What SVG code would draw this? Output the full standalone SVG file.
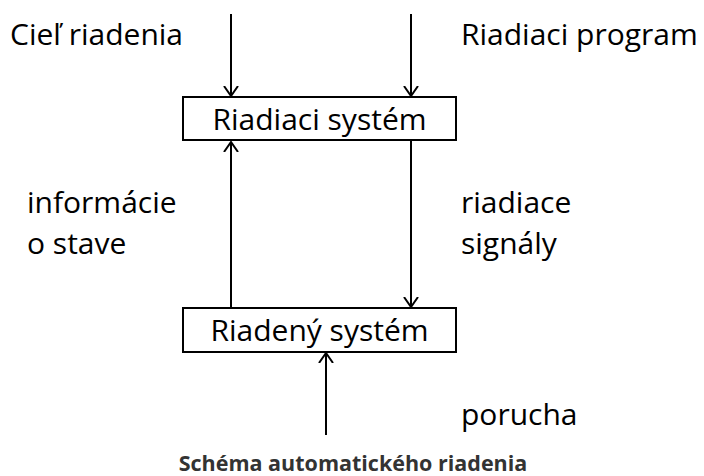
<svg xmlns="http://www.w3.org/2000/svg" width="704" height="476" viewBox="0 0 704 476">
<style>
.t{font-family:"Open Sans","Noto Sans",sans-serif;font-size:30px;fill:#000}
.b{fill:#fff;stroke:#000;stroke-width:2}
.c{stroke:#000;stroke-width:2;fill:none;marker-end:url(#a)}
.cap{font-family:"Open Sans","Noto Sans",sans-serif;font-size:21.5px;font-weight:bold;fill:#333}
</style>
<defs>
<marker id="a" markerUnits="userSpaceOnUse" markerWidth="20" markerHeight="20" refX="10" refY="10" orient="auto">
<polyline points="0,3 10,10 0,17" fill="none" stroke="#000" stroke-width="2"/>
</marker>
</defs>
<rect width="704" height="476" fill="#fff"/>
<g id="connectors">
<line class="c" x1="231" y1="14" x2="231" y2="96"/>
<line class="c" x1="411" y1="14" x2="411" y2="96"/>
<line class="c" x1="231" y1="308" x2="231" y2="142"/>
<line class="c" x1="411" y1="141" x2="411" y2="307"/>
<line class="c" x1="326" y1="435" x2="326" y2="353"/>
</g>
<g id="riadiaci">
<rect class="b" x="183" y="97" width="273" height="43"/>
<text class="t" x="319.5" y="130" text-anchor="middle">Riadiaci systém</text>
</g>
<g id="riadeny">
<rect class="b" x="183" y="308" width="273" height="44"/>
<text class="t" x="319.5" y="341" text-anchor="middle">Riadený systém</text>
</g>
<g id="labels">
<text class="t" x="10" y="45">Cieľ riadenia</text>
<text class="t" x="461" y="45">Riadiaci program</text>
<text class="t" x="27" y="213">informácie</text>
<text class="t" x="27" y="254">o stave</text>
<text class="t" x="461" y="213">riadiace</text>
<text class="t" x="461" y="254">signály</text>
<text class="t" x="461" y="425">porucha</text>
<text class="cap" x="353" y="471" text-anchor="middle">Schéma automatického riadenia</text>
</g>
</svg>
